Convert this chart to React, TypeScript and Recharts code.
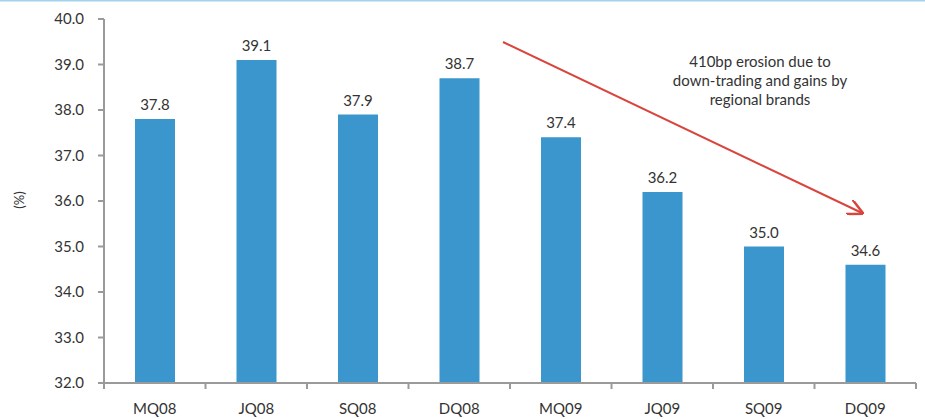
import { Bar, BarChart, LabelList, XAxis, YAxis } from "recharts";

const quarters = ["MQ08", "JQ08", "SQ08", "DQ08", "MQ09", "JQ09", "SQ09", "DQ09"];
const shares = [37.8, 39.1, 37.9, 38.7, 37.4, 36.2, 35.0, 34.6];
const yTicks = [32, 33, 34, 35, 36, 37, 38, 39, 40];
const noteLines = ["410bp erosion due to", "down-trading and gains by", "regional brands"];

const W = 925;
const H = 419;
const M = { top: 19, right: 9, bottom: 6, left: 44 };
const Y_AXIS_W = 60;
const X_AXIS_H = 30;
const FONT = "Lato, 'Open Sans', sans-serif";
const AXIS = "#9a9a9a";
const TEXT = "#333333";

const data = quarters.map((q, i) => ({ q, v: shares[i] }));
const halfBand = (W - M.left - Y_AXIS_W - M.right) / quarters.length / 2;

function QuarterTick(props: any) {
  const { x, y, payload, index } = props;
  return (
    <g>
      <line x1={x + halfBand} y1={y - 8} x2={x + halfBand} y2={y - 2} stroke={AXIS} strokeWidth={2} />
      {index === 0 && (
        <line x1={x - halfBand} y1={y - 8} x2={x - halfBand} y2={y - 2} stroke={AXIS} strokeWidth={2} />
      )}
      <text x={x} y={y + 23} textAnchor="middle" fill={TEXT} fontSize={15} fontFamily={FONT}>
        {payload.value}
      </text>
    </g>
  );
}

export default function App() {
  return (
    <div style={{ position: "absolute", left: 0, top: 0, width: W, height: H, background: "#fff" }}>
      <BarChart width={W} height={H} data={data} margin={M}>
        <XAxis
          dataKey="q"
          height={X_AXIS_H}
          axisLine={{ stroke: AXIS, strokeWidth: 2 }}
          tickLine={false}
          tick={<QuarterTick />}
          interval={0}
        />
        <YAxis
          width={Y_AXIS_W}
          domain={[32, 40]}
          ticks={yTicks}
          allowDataOverflow
          axisLine={{ stroke: AXIS, strokeWidth: 2 }}
          tickLine={{ stroke: AXIS, strokeWidth: 2 }}
          tickSize={6}
          tickMargin={14}
          tickFormatter={(v: number) => v.toFixed(1)}
          tick={{ fill: TEXT, fontSize: 15, fontFamily: FONT }}
        />
        <Bar dataKey="v" fill="#3a96cc" barSize={40} isAnimationActive={false}>
          <LabelList
            dataKey="v"
            position="top"
            offset={9}
            formatter={(v: number) => v.toFixed(1)}
            style={{ fill: TEXT, fontSize: 15, fontFamily: FONT }}
          />
        </Bar>
      </BarChart>
      <svg
        width={W}
        height={H}
        style={{ position: "absolute", left: 0, top: 0, pointerEvents: "none" }}
      >
        <defs>
          <marker id="head" viewBox="0 0 10 10" refX="9" refY="5" markerWidth="8" markerHeight="8" orient="auto">
            <path d="M0,0 L10,5 L0,10" fill="none" stroke="#d9443c" strokeWidth={1.6} />
          </marker>
        </defs>
        <line x1={0} y1={0.5} x2={W} y2={0.5} stroke="#a3d3ec" strokeWidth={2} />
        <line x1={503} y1={42} x2={862} y2={213} stroke="#d9443c" strokeWidth={2} markerEnd="url(#head)" />
        {noteLines.map((t, i) => (
          <text key={t} x={760} y={67 + i * 19} textAnchor="middle" fill={TEXT} fontSize={15} fontFamily={FONT}>
            {t}
          </text>
        ))}
        <text
          x={24}
          y={200}
          transform="rotate(-90 24 200)"
          textAnchor="middle"
          fill={TEXT}
          fontSize={13}
          fontFamily={FONT}
        >
          (%)
        </text>
      </svg>
    </div>
  );
}
